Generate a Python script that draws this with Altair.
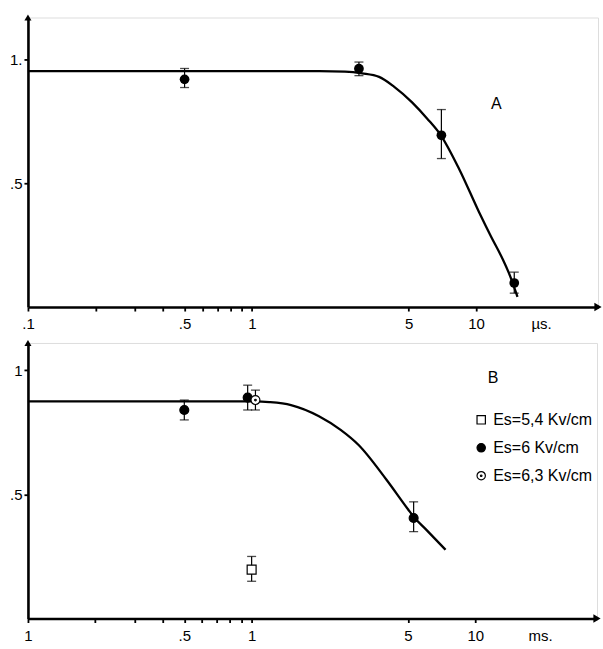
import altair as alt
import pandas as pd

FONT = "Liberation Sans"

# ---------------- Panel A (microseconds) ----------------
curveA_x = [0.1, 1, 2.0, 2.6, 3.1, 3.69, 4.30, 5.18, 6.04, 6.96, 8.4, 10.3, 11.67, 13.1, 14.2, 15.3]
curveA_y = [0.953, 0.953, 0.953, 0.951, 0.944, 0.930, 0.891, 0.827, 0.762, 0.694, 0.558, 0.384, 0.284, 0.196, 0.124, 0.041]

ptsA_x = [0.5, 3.0, 7.0, 14.8]
ptsA_y = [0.92, 0.963, 0.694, 0.097]
ptsA_lo = [0.887, 0.935, 0.60, 0.056]
ptsA_hi = [0.964, 0.99, 0.798, 0.141]

# ---------------- Panel B (milliseconds) ----------------
curveB_x = [0.1, 1.0, 1.2, 1.5, 2.0, 2.5, 3.0, 4.0, 5.0, 5.3, 6.0, 7.36]
curveB_y = [0.875, 0.875, 0.872, 0.86, 0.815, 0.76, 0.70, 0.56, 0.44, 0.41, 0.36, 0.277]

series_names = ["Es=5,4 Kv/cm", "Es=6 Kv/cm", "Es=6,3 Kv/cm"]
ptsB_series = ["Es=6 Kv/cm", "Es=6 Kv/cm", "Es=6 Kv/cm", "Es=6,3 Kv/cm", "Es=5,4 Kv/cm"]
ptsB_x = [0.5, 0.96, 5.3, 1.04, 1.0]
ptsB_y = [0.84, 0.89, 0.405, 0.88, 0.197]
ptsB_lo = [0.80, 0.84, 0.35, 0.84, 0.15]
ptsB_hi = [0.88, 0.94, 0.47, 0.92, 0.25]

# axis ticks
x_tick_values = [0.1, 0.2, 0.3, 0.4, 0.5, 0.6, 0.7, 0.8, 0.9, 1, 5, 10, 19.5]
y_tick_values = [0.5, 1]

X_MIN, X_MAX = 0.1, 35
YA_MAX = 1.17
YB_MAX = 1.11

dfA_curve = pd.DataFrame({"x": curveA_x, "y": curveA_y})
dfA_pts = pd.DataFrame({"x": ptsA_x, "y": ptsA_y, "lo": ptsA_lo, "hi": ptsA_hi})
dfB_curve = pd.DataFrame({"x": curveB_x, "y": curveB_y})
dfB_pts = pd.DataFrame({"series": ptsB_series, "x": ptsB_x, "y": ptsB_y, "lo": ptsB_lo, "hi": ptsB_hi})


def x_axis(first_label, unit):
    expr = (
        f"datum.value == 0.1 ? '{first_label}' : datum.value == 0.5 ? '.5' : "
        f"datum.value == 1 ? '1' : datum.value == 5 ? '5' : datum.value == 10 ? '10' : "
        f"datum.value > 15 ? '{unit}' : ''"
    )
    return alt.Axis(
        values=x_tick_values, labelExpr=expr, title=None, grid=False,
        domainColor="black", domainWidth=2.6, tickColor="black", tickWidth=1.8, tickSize=4,
        tickOpacity={"condition": {"test": "datum.value > 15", "value": 0}, "value": 1},
        labelFont=FONT, labelFontSize=15, labelColor="black", labelPadding=6,
        labelFlush=False, labelOverlap=False, labelBound=False,
    )


def y_axis(top_label):
    return alt.Axis(
        values=y_tick_values,
        labelExpr=f"datum.value == 1 ? '{top_label}' : '.5'",
        title=None, grid=False,
        domainColor="black", domainWidth=2.6, tickColor="black", tickWidth=1.8, tickSize=4,
        labelFont=FONT, labelFontSize=15, labelColor="black", labelPadding=2,
    )


def panel(df_curve, df_pts, y_max, first_label, unit, letter_x, letter_y, letter, legend=False):
    xs = alt.Scale(type="log", domain=[X_MIN, X_MAX], nice=False)
    ys = alt.Scale(domain=[0, y_max], nice=False)
    X = lambda f: alt.X(f, type="quantitative", scale=xs, axis=x_axis(first_label, unit))
    Y = lambda f: alt.Y(f, type="quantitative", scale=ys, axis=y_axis("1." if letter == "A" else "1"))

    curve = alt.Chart(df_curve).mark_line(color="black", strokeWidth=2.3, interpolate="monotone").encode(
        x=X("x"), y=Y("y")
    )
    bars = alt.Chart(df_pts).mark_rule(color="black", strokeWidth=1.2).encode(
        x=X("x"), y=Y("lo"), y2="hi"
    )
    cap_lo = alt.Chart(df_pts).mark_tick(color="black", orient="horizontal", size=9, thickness=1.3).encode(
        x=X("x"), y=Y("lo")
    )
    cap_hi = alt.Chart(df_pts).mark_tick(color="black", orient="horizontal", size=9, thickness=1.3).encode(
        x=X("x"), y=Y("hi")
    )
    if legend:
        dot_circle = "M1,0A1,1 0 1,1 -1,0A1,1 0 1,1 1,0ZM0.18,0A0.18,0.18 0 1,1 -0.18,0A0.18,0.18 0 1,1 0.18,0Z"
        square = "M-1,-1L1,-1L1,1L-1,1Z"
        pts = alt.Chart(df_pts).mark_point(filled=True, strokeWidth=1.2, opacity=1, size=80).encode(
            x=X("x"), y=Y("y"),
            shape=alt.Shape("series:N", scale=alt.Scale(domain=series_names, range=[square, "circle", dot_circle]),
                            legend=alt.Legend(
                                title=None, orient="none", legendX=446, legendY=395,
                                labelFont=FONT, labelFontSize=16, labelColor="black",
                                symbolStrokeColor="black", symbolStrokeWidth=1.2, symbolSize=70,
                                rowPadding=12, labelOffset=4)),
            fill=alt.Fill("series:N", scale=alt.Scale(domain=series_names, range=["white", "black", "white"])),
            stroke=alt.Stroke("series:N", scale=alt.Scale(domain=series_names, range=["black", "black", "black"])),
        )
    else:
        pts = alt.Chart(df_pts).mark_point(filled=True, color="black", size=95, shape="circle", opacity=1).encode(
            x=X("x"), y=Y("y")
        )
    arrow_x = alt.Chart(pd.DataFrame({"x": [X_MAX], "y": [0]})).mark_point(
        shape="triangle-right", filled=True, color="black", size=70, opacity=1
    ).encode(x=X("x"), y=Y("y"))
    arrow_y = alt.Chart(pd.DataFrame({"x": [X_MIN], "y": [y_max]})).mark_point(
        shape="triangle-up", filled=True, color="black", size=50, opacity=1
    ).encode(x=X("x"), y=Y("y"))
    label = alt.Chart(pd.DataFrame({"x": [letter_x], "y": [letter_y], "t": [letter]})).mark_text(
        font=FONT, fontSize=16, color="black", align="center", baseline="middle"
    ).encode(x=X("x"), y=Y("y"), text="t:N")
    return alt.layer(curve, bars, cap_lo, cap_hi, pts, arrow_x, arrow_y, label)


top = panel(dfA_curve, dfA_pts, YA_MAX, ".1", "µs.", 12.3, 0.82, "A").properties(width=571, height=290)
bottom = panel(dfB_curve, dfB_pts, YB_MAX, "1", "ms.", 12.0, 0.97, "B", legend=True).properties(width=570, height=276)

chart = alt.vconcat(top, bottom, spacing=36, bounds="flush").properties(
    padding={"left": 8, "top": 13, "right": 0, "bottom": 0}
).configure_view(stroke=None).configure(background="white").configure_axis(
    domainColor="black", domainWidth=2.6, domainOpacity=1
)

chart.save("out.html", embed_options={"renderer": "svg", "actions": False})
